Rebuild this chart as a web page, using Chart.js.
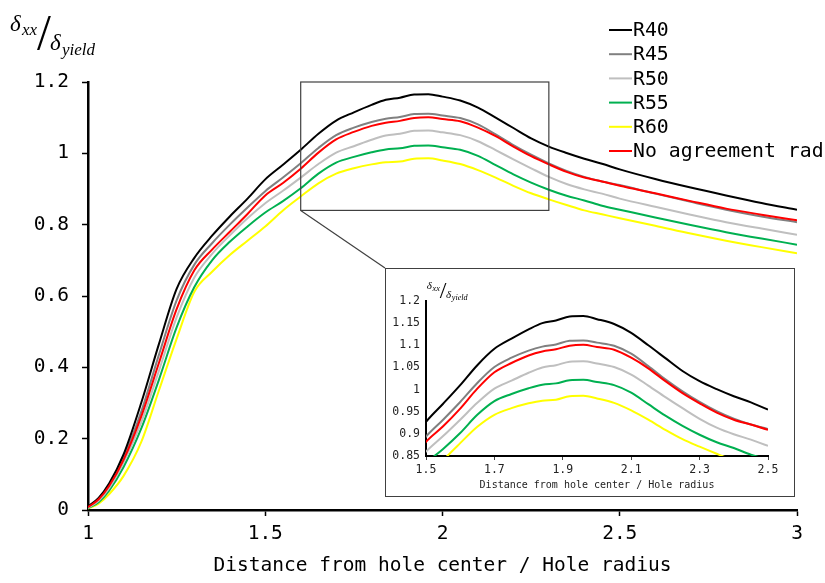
<!DOCTYPE html>
<html>
<head>
<meta charset="utf-8">
<script src="https://cdn.jsdelivr.net/npm/chart.js@4/dist/chart.umd.min.js"></script>
<style>
  body { margin: 0; background: #fff; }
  #wrap { position: relative; width: 825px; height: 583px; overflow: hidden; }
  #main { position: absolute; left: 0; top: 0; }
  #zoomBox { position: absolute; left: 385px; top: 268px; width: 410px; height: 229px;
             box-sizing: border-box; border: 1px solid #404040; background: #fff; }
  #zoom { position: absolute; left: 0; top: 0; }
</style>
</head>
<body>
<div id="wrap">
  <canvas id="main" width="825" height="583"></canvas>
  <div id="zoomBox"><canvas id="zoom" width="408" height="227"></canvas></div>
</div>
<script>
"use strict"

// normalised distance r/a where the stress ratio was sampled
const distances = [1.0, 1.03, 1.06, 1.1, 1.15, 1.2, 1.25, 1.3, 1.35, 1.4,
                   1.45, 1.5, 1.55, 1.6, 1.65, 1.7, 1.75, 1.8, 1.84, 1.88,
                   1.92, 1.96, 2.0, 2.05, 2.1, 2.15, 2.2, 2.25, 2.3, 2.35,
                   2.4, 2.45, 2.5, 2.6, 2.7, 2.8, 2.9, 3.0];

// sxx / syield for each agreement radius
const r40 = [0.010, 0.034, 0.075, 0.155, 0.300, 0.465, 0.620, 0.707, 0.769, 0.823,
             0.873, 0.927, 0.968, 1.010, 1.055, 1.092, 1.115, 1.136, 1.150, 1.156,
             1.165, 1.166, 1.159, 1.148, 1.128, 1.100, 1.071, 1.042, 1.019, 1.001,
             0.985, 0.971, 0.955, 0.928, 0.904, 0.882, 0.861, 0.842];
const r45 = [0.008, 0.032, 0.071, 0.147, 0.275, 0.435, 0.588, 0.688, 0.748, 0.800,
             0.848, 0.894, 0.932, 0.972, 1.015, 1.051, 1.072, 1.088, 1.097, 1.102,
             1.110, 1.111, 1.106, 1.099, 1.081, 1.053, 1.023, 0.996, 0.972, 0.951,
             0.934, 0.921, 0.911, 0.887, 0.864, 0.842, 0.823, 0.807];
const r50 = [0.006, 0.026, 0.062, 0.132, 0.245, 0.390, 0.540, 0.652, 0.718, 0.770,
             0.818, 0.860, 0.895, 0.932, 0.970, 1.002, 1.020, 1.038, 1.050, 1.055,
             1.063, 1.064, 1.059, 1.051, 1.034, 1.009, 0.983, 0.958, 0.934, 0.914,
             0.899, 0.887, 0.873, 0.850, 0.828, 0.807, 0.789, 0.772];
const r55 = [0.005, 0.022, 0.055, 0.120, 0.228, 0.365, 0.512, 0.625, 0.700, 0.752,
             0.795, 0.834, 0.866, 0.902, 0.943, 0.974, 0.990, 1.003, 1.011, 1.014,
             1.021, 1.022, 1.017, 1.010, 0.993, 0.967, 0.941, 0.918, 0.898, 0.881,
             0.868, 0.853, 0.842, 0.820, 0.799, 0.779, 0.761, 0.744];
const r60 = [0.004, 0.018, 0.045, 0.095, 0.190, 0.335, 0.480, 0.612, 0.668, 0.715,
             0.755, 0.795, 0.840, 0.879, 0.916, 0.943, 0.958, 0.969, 0.975, 0.977,
             0.985, 0.986, 0.980, 0.970, 0.953, 0.932, 0.909, 0.888, 0.871, 0.855,
             0.840, 0.829, 0.818, 0.797, 0.775, 0.755, 0.737, 0.720];
const noAgreement = [0.008, 0.030, 0.068, 0.140, 0.262, 0.412, 0.563, 0.672, 0.730, 0.780,
             0.830, 0.882, 0.917, 0.957, 1.002, 1.039, 1.060, 1.077, 1.086, 1.091,
             1.099, 1.101, 1.096, 1.090, 1.072, 1.048, 1.019, 0.992, 0.969, 0.948,
             0.932, 0.921, 0.909, 0.888, 0.866, 0.845, 0.828, 0.812];

const seriesNames = ["R40", "R45", "R50", "R55", "R60", "No agreement radius"];
const seriesValues = [r40, r45, r50, r55, r60, noAgreement];
const seriesColors = ["#000000", "#808080", "#BFBFBF", "#00B050", "#FFFF00", "#FF0000"];

// zoomed window shown in the inset
const zoomX = [1.6, 2.3];
const zoomY = [0.84, 1.2];

const xTitle = "Distance from hole center / Hole radius";
const MONO = '"DejaVu Sans Mono", monospace';
const SERIF = '"Liberation Serif", serif';

// plain tick numbers: 1, 1.5, 0.85 ... without padded zeros
function plainTick(value){
    return String(Math.round(value * 100) / 100);
}

function buildDatasets(lineWidth){
    return seriesNames.map(function(name, i){
        return {
            label: name,
            data: distances.map(function(x, j){ return {x: x, y: seriesValues[i][j]}; }),
            borderColor: seriesColors[i],
            backgroundColor: seriesColors[i],
            borderWidth: lineWidth,
            pointRadius: 0,
            cubicInterpolationMode: "monotone",
            // red curve sits on top of the others
            order: i === 5 ? 0 : 1
        };
    });
}

// sxx / syield label, drawn from an origin with a scale factor
function drawRatioTitle(ctx, ox, oy, s){
    ctx.save();
    ctx.fillStyle = "#000";
    ctx.textBaseline = "alphabetic";
    ctx.font = "italic " + (23 * s) + "px " + SERIF;
    ctx.fillText("δ", ox + 10 * s, oy + 31 * s);
    ctx.font = "italic " + (17 * s) + "px " + SERIF;
    ctx.fillText("xx", ox + 22 * s, oy + 35 * s);
    ctx.font = (50 * s) + "px " + SERIF;
    ctx.fillText("/", ox + 37 * s, oy + 49 * s);
    ctx.font = "italic " + (23 * s) + "px " + SERIF;
    ctx.fillText("δ", ox + 50 * s, oy + 50 * s);
    ctx.font = "italic " + (17 * s) + "px " + SERIF;
    ctx.fillText("yield", ox + 62 * s, oy + 55 * s);
    ctx.restore();
}

const mainExtras = {
    id: "mainExtras",
    afterDraw(chart){
        const ctx = chart.ctx;
        const xs = chart.scales.x, ys = chart.scales.y;

        drawRatioTitle(ctx, 0, 0, 1);

        // frame around the zoomed window and the leader to the inset
        const left = xs.getPixelForValue(zoomX[0]);
        const right = xs.getPixelForValue(zoomX[1]);
        const top = ys.getPixelForValue(zoomY[1]);
        const bottom = ys.getPixelForValue(zoomY[0]);
        const box = document.getElementById("zoomBox");
        ctx.save();
        ctx.strokeStyle = "#404040";
        ctx.lineWidth = 1.2;
        ctx.strokeRect(left, top, right - left, bottom - top);
        ctx.beginPath();
        ctx.moveTo(left, bottom);
        ctx.lineTo(box.offsetLeft, box.offsetTop);
        ctx.stroke();
        ctx.restore();

        // legend in the upper right corner
        ctx.save();
        ctx.font = "19.8px " + MONO;
        ctx.textBaseline = "middle";
        chart.data.datasets.forEach(function(ds, i){
            const y = 30 + i * 24.2;
            ctx.strokeStyle = ds.borderColor;
            ctx.lineWidth = 2;
            ctx.beginPath();
            ctx.moveTo(609, y);
            ctx.lineTo(632, y);
            ctx.stroke();
            ctx.fillStyle = "#000";
            ctx.fillText(ds.label, 633, y + 1);
        });
        ctx.restore();
    }
};

const zoomExtras = {
    id: "zoomExtras",
    afterDraw(chart){
        drawRatioTitle(chart.ctx, 36, 5, 0.48);
    }
};

new Chart(document.getElementById("main"), {
    type: "line",
    data: { datasets: buildDatasets(2) },
    options: {
        responsive: false,
        animation: false,
        layout: { padding: { top: 82, right: 28, left: 0, bottom: 0 } },
        plugins: { legend: { display: false }, tooltip: { enabled: false } },
        scales: {
            x: {
                type: "linear", min: 1, max: 3,
                ticks: { stepSize: 0.5, color: "#000", padding: 6, maxRotation: 0,
                         callback: plainTick, font: { family: MONO, size: 19.5 } },
                grid: { drawOnChartArea: false, tickLength: 6, tickColor: "#000", tickWidth: 1.5 },
                border: { color: "#000", width: 2.5 },
                title: { display: true, text: xTitle, color: "#000",
                         font: { family: MONO, size: 19.5 }, padding: { top: 0, bottom: 5 } },
                afterFit(scale){ scale.height = 73; }
            },
            y: {
                type: "linear", min: 0, max: 1.2,
                ticks: { stepSize: 0.2, color: "#000", padding: 13,
                         callback: plainTick, font: { family: MONO, size: 19.5 } },
                grid: { drawOnChartArea: false, tickLength: 6, tickColor: "#000", tickWidth: 1.5 },
                border: { color: "#000", width: 2.5 },
                afterFit(scale){ scale.width = 88; }
            }
        }
    },
    plugins: [mainExtras]
});

new Chart(document.getElementById("zoom"), {
    type: "line",
    data: { datasets: buildDatasets(2) },
    options: {
        responsive: false,
        animation: false,
        layout: { padding: { top: 32, right: 26, left: 0, bottom: 0 } },
        plugins: { legend: { display: false }, tooltip: { enabled: false } },
        scales: {
            x: {
                type: "linear", min: 1.5, max: 2.5,
                ticks: { stepSize: 0.2, color: "#222", padding: 3, maxRotation: 0,
                         callback: plainTick, font: { family: MONO, size: 11.5 } },
                grid: { drawOnChartArea: false, tickLength: 4, tickColor: "#444", tickWidth: 1 },
                border: { color: "#000", width: 2 },
                title: { display: true, text: xTitle, color: "#222",
                         font: { family: MONO, size: 10 }, padding: { top: 0, bottom: 5 } },
                afterFit(scale){ scale.height = 40; }
            },
            y: {
                type: "linear", min: 0.85, max: 1.2,
                ticks: { stepSize: 0.05, color: "#222", padding: 6,
                         callback: plainTick, font: { family: MONO, size: 11.5 } },
                grid: { drawOnChartArea: false, drawTicks: false },
                border: { color: "#000", width: 2 },
                afterFit(scale){ scale.width = 40; }
            }
        }
    },
    plugins: [zoomExtras]
});
</script>
</body>
</html>
